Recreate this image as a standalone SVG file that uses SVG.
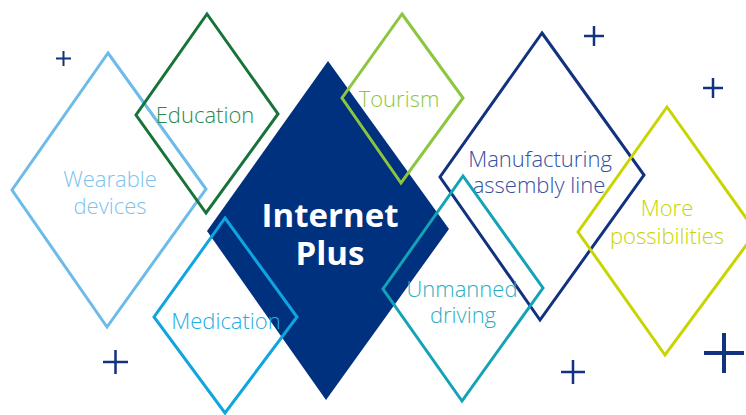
<svg xmlns="http://www.w3.org/2000/svg" width="746" height="415" viewBox="0 0 746 415">
<style>
.d{fill:none;stroke-width:3;stroke-linejoin:miter}
.t{font-family:"Open Sans","Liberation Sans",sans-serif;font-weight:300;font-size:22px;text-anchor:middle}
.b{font-family:"Open Sans","Liberation Sans",sans-serif;font-weight:700;font-size:33px;text-anchor:middle;fill:#fff}
.p{stroke:#12317f;fill:none}
</style>
<rect width="746" height="415" fill="#fff"/>
<g id="center">
<polygon points="328,61 449,229 326,400 207,231" fill="#00317f"/>
<text class="b" x="330" y="227">Internet</text>
<text class="b" x="330" y="265">Plus</text>
</g>
<g id="wearable">
<polygon class="d" points="108,53 206,189 107,327 12,190" stroke="#6cbbe9"/>
<text class="t" x="110" y="187" fill="#7cc3ec">Wearable</text>
<text class="t" x="110" y="214" fill="#7cc3ec">devices</text>
</g>
<g id="education">
<polygon class="d" points="207,14 278,114 206,213 136,115" stroke="#17733a"/>
<text class="t" x="205" y="123" fill="#2a8a4c">Education</text>
</g>
<g id="tourism">
<polygon class="d" points="402,14 463,98 401,183 342,98" stroke="#8cc63f"/>
<text class="t" x="399" y="107" fill="#8cc63f">Tourism</text>
</g>
<g id="manufacturing">
<polygon class="d" points="542,33 644,175 540,320 440,177" stroke="#12317f"/>
<text class="t" x="540" y="167" fill="#3450a0">Manufacturing</text>
<text class="t" x="539" y="193" fill="#3450a0">assembly line</text>
</g>
<g id="unmanned">
<polygon class="d" points="463,176 543,288 462,401 383,289" stroke="#14a2b6"/>
<text class="t" x="462" y="297" fill="#2aaec2">Unmanned</text>
<text class="t" x="463" y="323" fill="#2aaec2">driving</text>
</g>
<g id="medication">
<polygon class="d" points="225,218 297,317 225,413 154,317" stroke="#0ea5e0"/>
<text class="t" x="226" y="329" fill="#22ade3">Medication</text>
</g>
<g id="more">
<polygon class="d" points="667,107 756,232 665,355 578,232" stroke="#c8d500"/>
<text class="t" x="667" y="216" fill="#c8d500">More</text>
<text class="t" x="667" y="244" fill="#c8d500">possibilities</text>
</g>
<g id="pluses">
<path class="p" stroke-width="2" d="M56,58.5h15M63.5,51v15"/>
<path class="p" stroke-width="2.5" d="M103,362h25M115.5,350v24"/>
<path class="p" stroke-width="2.5" d="M584,36h20M594,26v20"/>
<path class="p" stroke-width="2.5" d="M703,88h20M713,78v20"/>
<path class="p" stroke-width="2.5" d="M561,372h24M573,360v24"/>
<path class="p" stroke-width="4" d="M704,353h40M724,333v40"/>
</g>
<g id="connectors"></g>
</svg>
